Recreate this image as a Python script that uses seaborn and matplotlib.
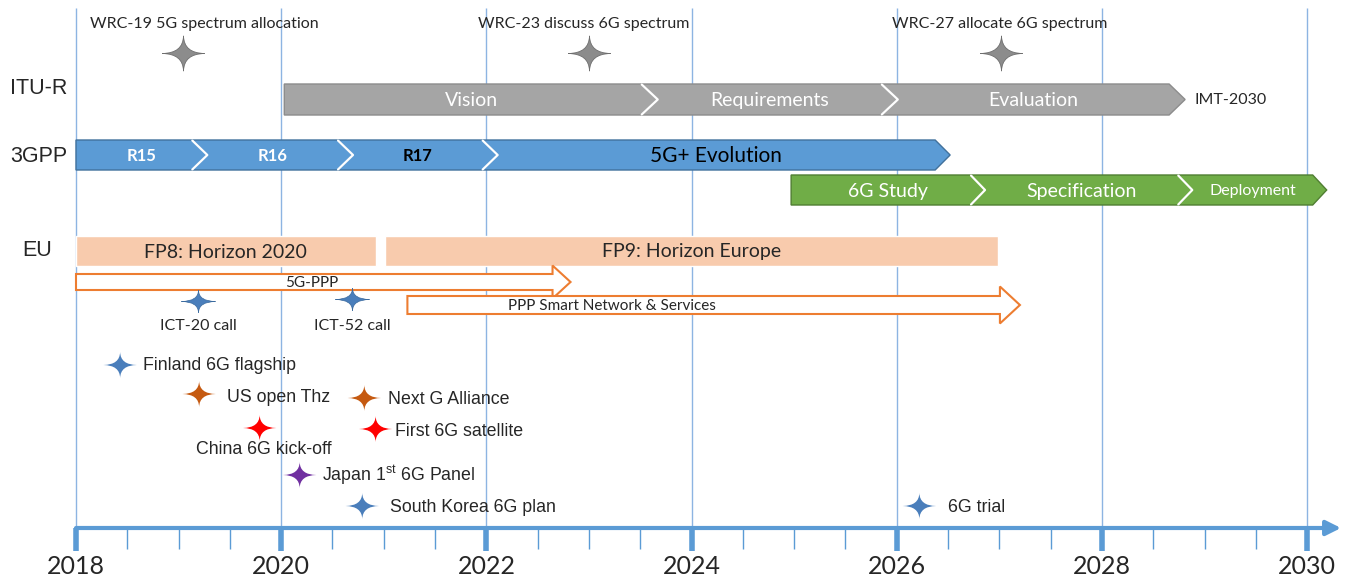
import numpy as np
import pandas as pd
import matplotlib.pyplot as plt
from matplotlib.patches import Polygon
from matplotlib.path import Path
import seaborn as sns

sns.set_style('white')
plt.rcParams['font.family'] = ['Lato', 'DejaVu Sans']
plt.rcParams['mathtext.fontset'] = 'custom'
plt.rcParams['mathtext.rm'] = 'Liberation Sans'

# ---- data ----
years = [2018, 2020, 2022, 2024, 2026, 2028, 2030]

wrc_labels = ['WRC-19 5G spectrum allocation', 'WRC-23 discuss 6G spectrum', 'WRC-27 allocate 6G spectrum']
wrc_years = [2019.04, 2023.0, 2027.02]

itu_phases = ['Vision', 'Requirements', 'Evaluation']
itu_start = 2020.03
itu_ends = [2023.67, 2026.01, 2028.81]

gpp_phases = ['R15', 'R16', 'R17', '5G+ Evolution']
gpp_start = 2018.0
gpp_ends = [2019.28, 2020.70, 2022.11, 2026.52]

sixg_phases = ['6G Study', 'Specification', 'Deployment']
sixg_start = 2024.97
sixg_ends = [2026.86, 2028.88, 2030.19]

eu_programmes = ['FP8: Horizon 2020', 'FP9: Horizon Europe']
eu_start = [2018.0, 2021.01]
eu_end = [2020.92, 2026.99]

ppp_labels = ['5G-PPP', 'PPP Smart Network & Services']
ppp_start = [2018.0, 2021.23]
ppp_end = [2022.82, 2027.2]

ict_labels = ['ICT-20 call', 'ICT-52 call']
ict_years = [2019.19, 2020.69]

event_labels = ['Finland 6G flagship', 'US open Thz', 'Next G Alliance', 'China 6G kick-off',
                'First 6G satellite', 'Japan 1$^{\\mathrm{st}}$ 6G Panel', 'South Korea 6G plan', '6G trial']
event_years = [2018.43, 2019.20, 2020.81, 2019.79, 2020.92, 2020.18, 2020.79, 2026.22]
event_country = ['Finland', 'US', 'US', 'China', 'China', 'Japan', 'South Korea', 'South Korea']

# ---- layout (pixel rows, y grows downward) ----
PX = 102.6  # pixels per year
event_rows = [365, 394, 398, 428, 429, 475, 506, 506]
event_text_dx = [23, 28, 24, None, 19, 22, 28, 29]
event_text_dy = [1, 3, 2, 22, 2, 0, 1, 2]
wrc_text_dx = [22, -5, -2]

country_colors = {'Finland': '#4A7EBB', 'US': '#C55A11', 'China': '#FF0000',
                  'Japan': '#7030A0', 'South Korea': '#4A7EBB'}


def px(p):
    return p / PX


def star_path(aspect, c=0.02):
    # four-pointed star with curved (concave) sides
    tips = [(1, 0), (0, aspect), (-1, 0), (0, -aspect), (1, 0)]
    ctrl = [(c, c * aspect), (-c, c * aspect), (-c, -c * aspect), (c, -c * aspect)]
    verts = [tips[0]]
    codes = [Path.MOVETO]
    for i in range(4):
        verts += [ctrl[i], tips[i + 1]]
        codes += [Path.CURVE3, Path.CURVE3]
    return Path(verts, codes)


def chevrons(ax, start, ends, names, yc, h, depth, face, edge, tcolors, tweights, tsizes):
    d = px(depth)
    x0 = start
    for i, (x1, name) in enumerate(zip(ends, names)):
        pts = [(x0, yc - h), (x1 - d, yc - h), (x1, yc), (x1 - d, yc + h), (x0, yc + h)]
        if i > 0:
            pts.append((x0 + d, yc))
        ax.add_patch(Polygon(pts, closed=True, fc=face, ec=edge, lw=1, zorder=3))
        if i > 0:
            ax.plot([x0, x0 + d, x0], [yc - h + 0.5, yc, yc + h - 0.5], color='white', lw=1.6, zorder=4)
        ax.text((x0 + x1) / 2, yc + 1, name, ha='center', va='center', color=tcolors[i],
                fontweight=tweights[i], fontsize=tsizes[i], zorder=5)
        x0 = x1 - d


def open_arrow(ax, xs, xt, yc, hb, hh, head):
    xb = xt - px(head)
    pts = [(xs, yc - hb), (xb, yc - hb), (xb, yc - hh), (xt, yc), (xb, yc + hh), (xb, yc + hb), (xs, yc + hb)]
    ax.add_patch(Polygon(pts, closed=True, fc='white', ec='#ED7D31', lw=1.5, zorder=3))


fig = plt.figure(figsize=(13.54, 5.8), dpi=100)
ax = fig.add_axes([0, 0, 1, 1])
ax.set_xlim(2018 - px(76), 2018 + px(1354 - 76))
ax.set_ylim(580, 0)
ax.axis('off')

# grid + time axis
ax.vlines(years, 8, 528, colors='#8DB4E2', lw=1, zorder=1)
half = np.arange(2018, 2030.01, 0.5)
minor = [h for h in half if h not in years]
ax.vlines(minor, 528, 549, colors='#5B9BD5', lw=1, zorder=2)
ax.vlines(years, 528, 551, colors='#5B9BD5', lw=4, zorder=2)
ax.annotate('', xy=(2018 + px(1341 - 76), 528), xytext=(2018, 528),
            arrowprops=dict(arrowstyle='-|>', color='#5B9BD5', lw=3, mutation_scale=22,
                            shrinkA=0, shrinkB=0), zorder=2)
for y in years:
    ax.text(y, 567, str(y), ha='center', va='center', fontsize=18)

# row labels
for lab, xp, yp in [('ITU-R', 10, 89), ('3GPP', 10, 156), ('EU', 22, 251)]:
    ax.text(2018 + px(xp - 76), yp, lab, ha='left', va='center', fontsize=15.5,
            family='Liberation Sans')

# WRC stars
wrc_df = pd.DataFrame({'year': wrc_years, 'row': [53] * 3})
sns.scatterplot(data=wrc_df, x='year', y='row', ax=ax, marker=star_path(0.83), s=920,
                color='#8C8C8C', edgecolor='#6E6E6E', linewidth=0.6, legend=False, zorder=6)
for lab, yr, dx in zip(wrc_labels, wrc_years, wrc_text_dx):
    ax.text(yr + px(dx), 24, lab, ha='center', va='center', fontsize=11.5)

# chevron rows
chevrons(ax, itu_start, itu_ends, itu_phases, 99.5, 15.5, 16, '#A5A5A5', '#8C8C8C',
         ['white'] * 3, ['normal'] * 3, [14, 14, 14])
ax.text(2018 + px(1195 - 76), 100, 'IMT-2030', ha='left', va='center', fontsize=11.5)
chevrons(ax, gpp_start, gpp_ends, gpp_phases, 155, 15, 15, '#5B9BD5', '#41719C',
         ['white', 'white', 'black', 'black'], ['bold', 'bold', 'bold', 'normal'], [12, 12, 12, 15])
chevrons(ax, sixg_start, sixg_ends, sixg_phases, 190, 15, 14, '#70AD47', '#507E32',
         ['white'] * 3, ['normal'] * 3, [14, 14, 11.5])

# EU programmes
ax.barh([251] * 2, np.array(eu_end) - np.array(eu_start), left=eu_start, height=30,
        color='#F8CBAD', zorder=2)
for lab, s0, s1 in zip(eu_programmes, eu_start, eu_end):
    ax.text((s0 + s1) / 2, 252, lab, ha='center', va='center', fontsize=14)

# PPP arrows
open_arrow(ax, ppp_start[0], ppp_end[0], 282, 8, 16.5, 18)
open_arrow(ax, ppp_start[1], ppp_end[1], 305, 9, 18.5, 20)
ax.text(2018 + px(312 - 76), 283, ppp_labels[0], ha='center', va='center', fontsize=11, zorder=5)
ax.text(2018 + px(612 - 76), 306, ppp_labels[1], ha='center', va='center', fontsize=11, zorder=5)

# ICT calls
ict_df = pd.DataFrame({'year': ict_years, 'row': [301, 299]})
sns.scatterplot(data=ict_df, x='year', y='row', ax=ax, marker=star_path(0.65), s=600,
                color='#4A7EBB', edgecolor='#3A6A9E', linewidth=0.5, legend=False, zorder=6)
for lab, yr in zip(ict_labels, ict_years):
    ax.text(yr, 326, lab, ha='center', va='center', fontsize=11.5)

# national events
ev_df = pd.DataFrame({'year': event_years, 'row': event_rows, 'country': event_country})
sns.scatterplot(data=ev_df, x='year', y='row', hue='country', palette=country_colors, ax=ax,
                marker=star_path(0.78), s=580, edgecolor='none', linewidth=0, legend=False, zorder=6)
for lab, yr, r, dx, dy in zip(event_labels, event_years, event_rows, event_text_dx, event_text_dy):
    if dx is None:
        ax.text(yr + px(4), r + dy, lab, ha='center', va='center', fontsize=12.8,
                family='Liberation Sans')
    else:
        ax.text(yr + px(dx), r + dy, lab, ha='left', va='center', fontsize=12.8,
                family='Liberation Sans')

plt.savefig('out.png', dpi=100)
